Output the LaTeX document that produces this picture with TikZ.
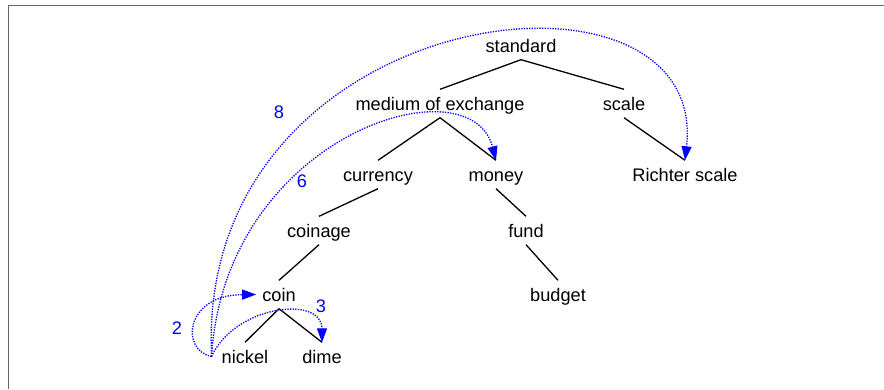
\documentclass[tikz,border=0pt]{standalone}
\usepackage{fontspec}
\setmainfont{Liberation Sans}
\usetikzlibrary{arrows.meta}

\begin{document}
\begin{tikzpicture}[x=1pt, y=-1pt,
    tok/.style={font=\fontsize{18.2}{22}\selectfont, text height=13pt,
                text depth=0pt, inner xsep=6pt, inner ysep=7.5pt, anchor=base},
    edge/.style={line width=1.3pt, black},
    dep/.style={-{Triangle[length=14pt, width=10pt]}, blue, line width=1.3pt,
                dash pattern=on 1.3pt off 1.3pt},
    num/.style={font=\fontsize{18.2}{22}\selectfont, text=blue, inner sep=0pt},
    frame/.style={draw=black!60, line width=1.8pt},
]
\useasboundingbox (0,0) rectangle (884,389);
\draw[frame] (8.5,389) -- (8.5,5.5) -- (884,5.5);

% --- NODES ---
\node[tok] (standard) at (521,52)  {standard};
\node[tok] (medium)   at (440,110) {medium of exchange};
\node[tok] (scale)    at (624,110) {scale};
\node[tok] (currency) at (378,181) {currency};
\node[tok] (money)    at (496,181) {money};
\node[tok] (richter)  at (685,181) {Richter scale};
\node[tok] (coinage)  at (319,237) {coinage};
\node[tok] (fund)     at (526,237) {fund};
\node[tok] (coin)     at (279,301) {coin};
\node[tok] (budget)   at (558,301) {budget};
\node[tok] (nickel)   at (245,363) {nickel};
\node[tok] (dime)     at (322,363) {dime};

\coordinate (src) at ([xshift=-4pt]nickel.west);

% --- TREE ---
\draw[edge] (standard.south) -- (medium.north);
\draw[edge] (standard.south) -- (scale.north);
\draw[edge] (medium.south) -- (currency.north);
\draw[edge] (medium.south) -- (money.north);
\draw[edge] (scale.south) -- (richter.north);
\draw[edge] (currency.south) -- (coinage.north);
\draw[edge] (money.south) -- (fund.north);
\draw[edge] (coinage.south) -- (coin.north);
\draw[edge] (fund.south) -- (budget.north);
\draw[edge] (coin.south) -- (nickel.north);
\draw[edge] (coin.south) -- (dime.north);

% --- DISTANCE ARCS ---
\draw[dep] (src) .. controls (180,350) and (185,295) .. (coin.west);
\draw[dep] (src) .. controls (235,305) and (322,295) .. (dime.north);
\draw[dep] (src) .. controls (225,135) and (470,60) .. (money.north);
\draw[dep] (src) .. controls (195,0) and (710,-60) .. (richter.north);

\node[num] (n2) at (177,328) {2};
\node[num] (n3) at (321,306) {3};
\node[num] (n6) at (302,181) {6};
\node[num] (n8) at (279,112) {8};

\end{tikzpicture}
\end{document}
